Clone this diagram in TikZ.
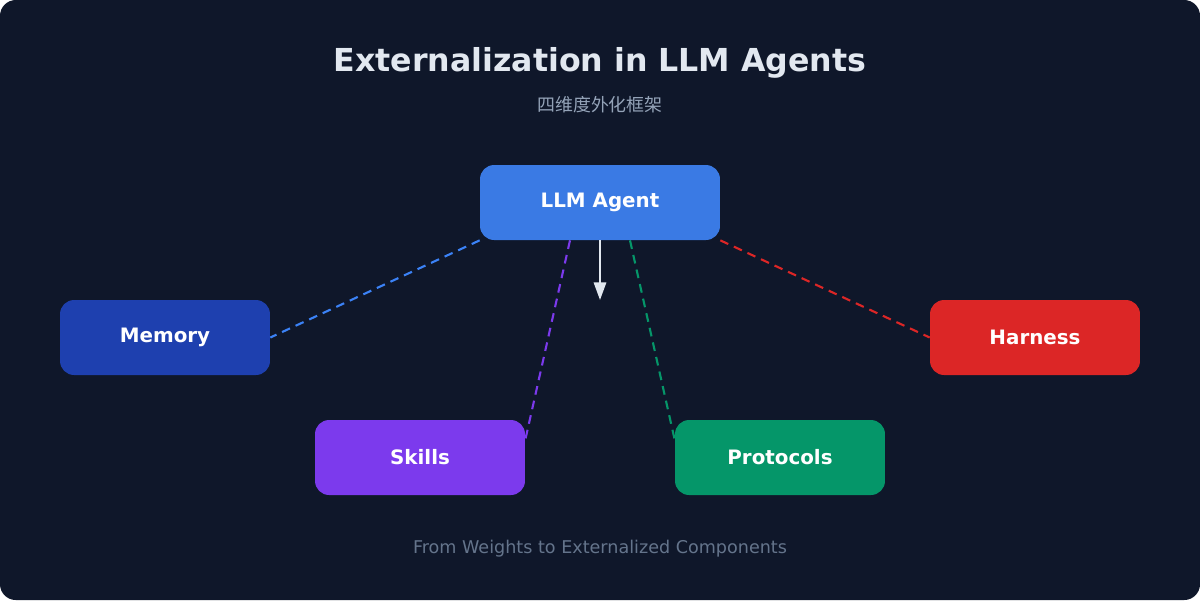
\documentclass[tikz,border=0pt]{standalone}
\usepackage{fontspec}
\setmainfont{DejaVu Sans}
\newfontfamily\cjk{Noto Sans CJK SC}
\usetikzlibrary{arrows.meta}
\usetikzlibrary{positioning}
\usetikzlibrary{calc}
\definecolor{bgdark}{HTML}{0F172A}
\definecolor{agentblue}{HTML}{3A7AE4}
\definecolor{memblue}{HTML}{1E40AF}
\definecolor{linkblue}{HTML}{3B82F6}
\definecolor{harnessred}{HTML}{DC2626}
\definecolor{skillpurple}{HTML}{7C3AED}
\definecolor{protogreen}{HTML}{059669}
\definecolor{titlegray}{HTML}{E2E8F0}
\definecolor{subgray}{HTML}{94A3B8}
\definecolor{footgray}{HTML}{64748B}
\tikzset{
  box/.style={rectangle, rounded corners=8pt, minimum width=4.2cm, minimum height=1.5cm,
    text=white, font=\fontsize{11.3}{13}\selectfont\bfseries, inner sep=0pt},
  link/.style={dashed, dash pattern=on 5pt off 3.5pt, line width=1.2pt},
}
\begin{document}
\begin{tikzpicture}[x=0.02cm, y=-0.02cm]
	% background
	\fill[white] (0,0) rectangle (1200,600);
	\fill[bgdark, rounded corners=9pt] (0,0) rectangle (1200,600);
	\useasboundingbox (0,0) rectangle (1200,600);
	
	% titles
	\node[text=titlegray, font=\fontsize{18}{22}\selectfont\bfseries] (title) at (600,63) {Externalization in LLM Agents};
	\node[text=subgray, font=\cjk\fontsize{10.2}{12}\selectfont] (subtitle) at (600,105) {四维度外化框架};
	\node[text=footgray, font=\fontsize{10}{12}\selectfont] (footer) at (600,549) {From Weights to Externalized Components};
	
	% nodes
	\node[box, minimum width=4.8cm, fill=agentblue] (agent) at (600,202.5) {LLM Agent};
	\node[box, fill=memblue] (memory) at (165,337.5) {Memory};
	\node[box, fill=harnessred] (harness) at (1035,337.5) {Harness};
	\node[box, fill=skillpurple] (skills) at (420,457.5) {Skills};
	\node[box, fill=protogreen] (protocols) at (780,457.5) {Protocols};
	
	% connecting lines
	\draw[link, draw=linkblue] (agent.south west) -- (memory.east);
	\draw[link, draw=harnessred] (agent.south east) -- (harness.west);
	\draw[link, draw=skillpurple] ($(agent.south)+(-30,0)$) -- ($(skills.north east)+(0,20)$);
	\draw[link, draw=protogreen] ($(agent.south)+(30,0)$) -- ($(protocols.north west)+(0,20)$);
	
	% center arrow
	\coordinate (core) at (600,300);
	\draw[titlegray, line width=1.2pt, -{Triangle[length=10pt,width=7pt]}] (agent.south) -- (core);
\end{tikzpicture}
\end{document}
